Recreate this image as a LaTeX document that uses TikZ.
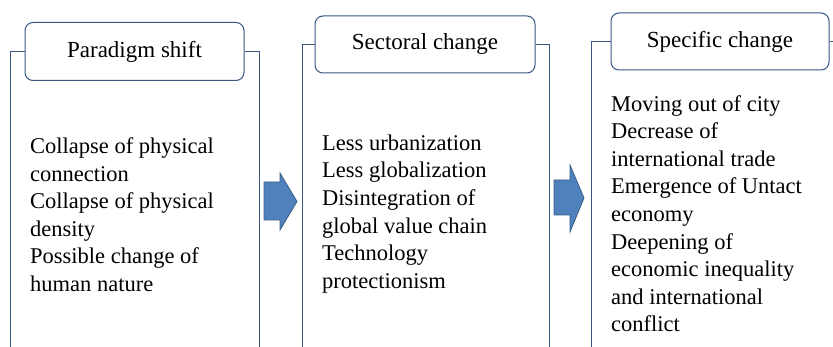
\documentclass[tikz,border=0pt]{standalone}
\usepackage{fontspec}
\setmainfont{Liberation Serif}
\definecolor{frame}{RGB}{56,87,128}
\definecolor{arrfill}{RGB}{79,129,189}
\definecolor{arrline}{RGB}{56,93,138}
\tikzset{
  hdr/.style={draw=frame, line width=1pt, rounded corners=8pt, fill=white,
    inner sep=0pt, font=\fontsize{23}{27}\selectfont},
  body/.style={anchor=north west, align=left, inner sep=0pt,
    font=\fontsize{22.5}{27.6}\selectfont},
  pline/.style={draw=frame, line width=1pt},
  bigarrow/.style={fill=arrfill, draw=arrline, line width=0.8pt, line join=miter}
}
\begin{document}
\begin{tikzpicture}[x=1pt,y=-1pt]
\useasboundingbox (0,0) rectangle (833,347);
% header boxes
\node[hdr, minimum width=219pt, minimum height=58pt] (h1) at (134.5,51.5) {Paradigm shift};
\node[hdr, minimum width=220pt, minimum height=57pt] (h2) at (425,44.5) {Sectoral change};
\node[hdr, minimum width=218pt, minimum height=57pt] (h3) at (720,41.5) {Specific change};
% panel outline ends
\coordinate (p1l) at (10,347);
\coordinate (p1r) at (259,347);
\coordinate (p2l) at (302,347);
\coordinate (p2r) at (549,347);
\coordinate (p3l) at (591,347);
\coordinate (p3r) at (833,41.5);
\draw[pline] (h1.west) -| (p1l);
\draw[pline] (h1.east) -| (p1r);
\draw[pline] (h2.west) -| (p2l);
\draw[pline] (h2.east) -| (p2r);
\draw[pline] (h3.west) -| (p3l);
\draw[pline] (h3.east) -- (p3r);
% body texts
\node[body] (t1) at (30,137.5) {Collapse of physical\\connection\\Collapse of physical\\density\\Possible change of\\human nature};
\node[body] (t2) at (322,134.5) {Less urbanization\\Less globalization\\Disintegration of\\global value chain\\Technology\\protectionism};
\node[body] (t3) at (611,95) {Moving out of city\\Decrease of\\international trade\\Emergence of Untact\\economy\\Deepening of\\economic inequality\\and international\\conflict};
% arrows
\draw[bigarrow] (264,182) -- (280,182) -- (280,173) -- (297,201.5) -- (280,230) -- (280,220) -- (264,220) -- cycle;
\draw[bigarrow] (554,180) -- (570,180) -- (570,165) -- (584,198) -- (570,232) -- (570,215) -- (554,215) -- cycle;
\end{tikzpicture}
\end{document}
